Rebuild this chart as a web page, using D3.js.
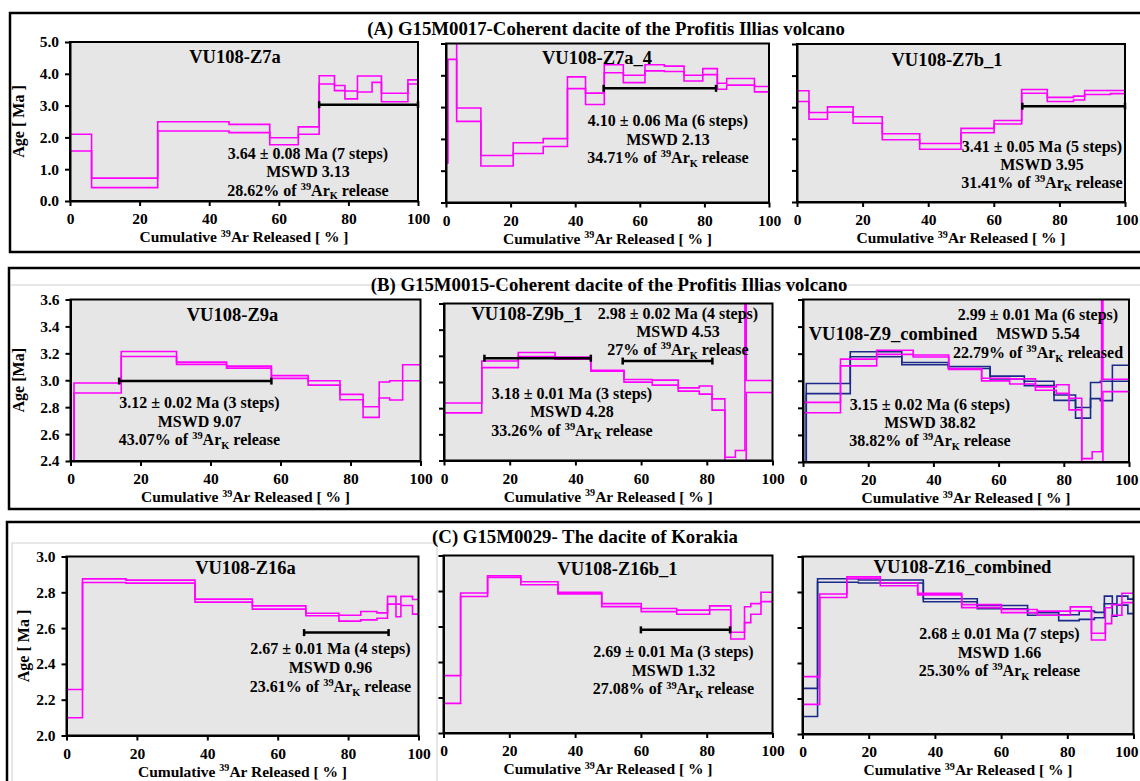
<!DOCTYPE html>
<html>
<head>
<meta charset="utf-8">
<title>Ar-Ar age spectra</title>
<style>
  body { margin: 0; background: #fff; }
  svg { display: block; font-family: "Liberation Serif", "Times New Roman", serif; font-weight: bold; }
  .step { fill: none; stroke-width: 1.6; }
  .plateau { stroke: #000; stroke-width: 2.5; }
  .axis path, .axis line { stroke: #000; stroke-width: 2; }
  .axis text { font-size: 15.5px; font-weight: bold; font-family: "Liberation Serif", "Times New Roman", serif; fill: #000; }
  .frame { fill: none; stroke: #000; stroke-width: 2; }
</style>
</head>
<body>
<svg width="1140" height="781"></svg>
<script src="https://cdn.jsdelivr.net/npm/d3@7"></script>
<script>
// ---- step data: left edge of each step (% 39Ar), upper and lower 2-sigma age (Ma)

// VU108-Z7a
var z7aSteps = [0, 6.2, 25.2, 45.7, 57.4, 65.6, 71.6, 76.0, 79.0, 82.6, 86.8, 89.5, 97.1];
var z7aHigh  = [2.10, 0.72, 2.49, 2.41, 1.99, 2.33, 3.94, 3.63, 3.46, 3.93, 3.93, 3.39, 3.81];
var z7aLow   = [1.57, 0.42, 2.20, 2.15, 1.77, 2.10, 3.68, 3.47, 3.21, 3.43, 3.73, 3.12, 3.68];
var z7aPlateau = [[71.6, 100, 3.03]];
var z7aNote = ["3.64 ± 0.08 Ma (7 steps)", "MSWD 3.13", "28.62% of ^39Ar_K release"];

// VU108-Z7a_4
var z7a4Steps = [0, 0.6, 3.3, 10.8, 20.8, 30.1, 37.6, 43.2, 49.0, 54.9, 61.6, 67.6, 73.7, 79.5, 84.0, 86.9, 95.5];
var z7a4High  = [5.6, 5.6, 2.97, 1.48, 1.88, 2.01, 3.95, 3.44, 4.33, 4.00, 4.33, 4.29, 4.00, 4.21, 3.75, 3.90, 3.65];
var z7a4Low   = [1.24, 4.50, 2.55, 1.15, 1.54, 1.76, 3.58, 3.08, 4.08, 3.77, 4.14, 4.12, 3.82, 4.02, 3.56, 3.69, 3.48];
var z7a4Plateau = [[48.8, 83.6, 3.59]];
var z7a4Note = ["4.10 ± 0.06 Ma (6 steps)", "MSWD 2.13", "34.71% of ^39Ar_K release"];

// VU108-Z7b_1
var z7b1Steps = [0, 3.65, 9.3, 17.1, 26.0, 37.4, 50.0, 60.1, 68.5, 76.3, 84.3, 87.7, 95.6];
var z7b1High  = [3.52, 2.83, 3.01, 2.70, 2.16, 1.85, 2.33, 2.58, 3.56, 3.31, 3.35, 3.53, 3.53];
var z7b1Low   = [3.18, 2.62, 2.84, 2.49, 1.97, 1.67, 2.19, 2.47, 3.44, 3.18, 3.23, 3.40, 3.43];
var z7b1Plateau = [[68.7, 100, 3.03]];
var z7b1Note = ["3.41 ± 0.05 Ma (5 steps)", "MSWD 3.95", "31.41% of ^39Ar_K release"];

// VU108-Z9a
var z9aSteps = [0, 1.0, 14.5, 30.3, 44.6, 57.4, 67.9, 77.0, 83.6, 88.2, 91.2, 94.9];
var z9aHigh  = [2.20, 2.980, 3.214, 3.135, 3.105, 3.034, 2.996, 2.895, 2.803, 2.987, 2.996, 3.115];
var z9aLow   = [2.00, 2.905, 3.177, 3.118, 3.090, 3.014, 2.964, 2.855, 2.724, 2.868, 2.853, 2.996];
var z9aPlateau = [[13.9, 57.4, 2.994]];
var z9aNote = ["3.12 ± 0.02 Ma (3 steps)", "MSWD 9.07", "43.07% of ^39Ar_K release"];

// VU108-Z9b_1
var z9b1Steps = [0, 11.5, 22.6, 33.8, 44.7, 54.8, 63.4, 71.3, 77.7, 81.6, 85.5, 88.7, 91.6, 92.0];
var z9b1High  = [2.840, 3.160, 3.225, 3.190, 3.090, 3.019, 3.014, 2.955, 2.970, 2.871, 2.425, 2.476, 4.0, 3.011];
var z9b1Low   = [2.764, 3.110, 3.195, 3.175, 3.083, 2.999, 2.976, 2.930, 2.907, 2.785, 2.30, 2.30, 2.0, 2.920];
var z9b1Plateau = [[12.3, 44.7, 3.182], [54.4, 81.7, 3.16]];
var z9b1NoteA = ["2.98 ± 0.02 Ma (4 steps)", "MSWD 4.53", "27% of ^39Ar_K release"];
var z9b1NoteB = ["3.18 ± 0.01 Ma (3 steps)", "MSWD 4.28", "33.26% of ^39Ar_K release"];

// VU108-Z9_combined
var z9cNoteA = ["2.99 ± 0.01 Ma (6 steps)", "MSWD 5.54", "22.79% of ^39Ar_K released"];
var z9cNoteB = ["3.15 ± 0.02 Ma (6 steps)", "MSWD 38.82", "38.82% of ^39Ar_K release"];

// VU108-Z16a
var z16aSteps = [0, 4.55, 16.9, 36.5, 52.8, 68.0, 77.4, 83.6, 88.2, 91.2, 93.6, 95.0, 98.3];
var z16aHigh  = [2.257, 2.875, 2.868, 2.762, 2.724, 2.683, 2.672, 2.693, 2.685, 2.777, 2.734, 2.777, 2.760];
var z16aLow   = [2.099, 2.855, 2.851, 2.745, 2.706, 2.669, 2.639, 2.646, 2.655, 2.734, 2.663, 2.726, 2.678];
var z16aPlateau = [[67.5, 91.5, 2.575]];
var z16aNote = ["2.67 ± 0.01 Ma (4 steps)", "MSWD 0.96", "23.61% of ^39Ar_K release"];

// VU108-Z16b_1
var z16b1Steps = [0, 5.2, 13.4, 23.5, 34.8, 48.1, 60.1, 70.9, 80.9, 87.3, 91.5, 93.4, 96.5];
var z16b1High  = [2.323, 2.789, 2.885, 2.852, 2.793, 2.729, 2.701, 2.692, 2.716, 2.568, 2.711, 2.729, 2.793];
var z16b1Low   = [2.167, 2.769, 2.876, 2.835, 2.784, 2.712, 2.684, 2.669, 2.694, 2.530, 2.622, 2.669, 2.740];
var z16b1Plateau = [[60.0, 87.1, 2.581]];
var z16b1Note = ["2.69 ± 0.01 Ma (3 steps)", "MSWD 1.32", "27.08% of ^39Ar_K release"];

// VU108-Z16_combined
var z16cNote = ["2.68 ± 0.01 Ma (7 steps)", "MSWD 1.66", "25.30% of ^39Ar_K release"];

// axis ticks
var xTicks = [0, 20, 40, 60, 80, 100];
var yTicksA = [0, 1, 2, 3, 4, 5];
var yTicksB = [2.4, 2.6, 2.8, 3.0, 3.2, 3.4, 3.6];
var yTicksC = [2.0, 2.2, 2.4, 2.6, 2.8, 3.0];

var rowTitles = ["(A) G15M0017-Coherent dacite of the Profitis Illias volcano",
                 "(B) G15M0015-Coherent dacite of the Profitis Illias volcano",
                 "(C) G15M0029- The dacite of Korakia"];

var MAGENTA = "#ff00ff", NAVY = "#1b2a8a";
var W = 1140;

var svg = d3.select("svg");

// ---- row boxes
svg.append("rect").attr("x", 10).attr("y", 13).attr("width", 1150).attr("height", 239)
    .attr("fill", "none").attr("stroke", "#000").attr("stroke-width", 2.5);
svg.append("rect").attr("x", 9).attr("y", 268).attr("width", 1150).attr("height", 241)
    .attr("fill", "none").attr("stroke", "#000").attr("stroke-width", 2.5);
svg.append("line").attr("x1", 10).attr("x2", W).attr("y1", 285).attr("y2", 285)
    .attr("stroke", "#cfcfcf").attr("stroke-width", 1);
svg.append("rect").attr("x", 7).attr("y", 522).attr("width", 1150).attr("height", 280)
    .attr("fill", "none").attr("stroke", "#000").attr("stroke-width", 2.5);
svg.append("rect").attr("x", 12).attr("y", 543).attr("width", 425).attr("height", 260)
    .attr("fill", "none").attr("stroke", "#cfcfcf").attr("stroke-width", 1);

[[606, 35], [609, 291], [585, 543]].forEach(function(p, i) {
  svg.append("text").attr("x", p[0]).attr("y", p[1]).attr("text-anchor", "middle")
      .attr("font-size", 18.8).text(rowTitles[i]);
});

// text with ^39 superscripts and _K subscripts
function richText(sel, str, size) {
  var parts = str.split(/(\^\d+|_[A-Z])/);
  var shift = 0;
  parts.forEach(function(s) {
    if (!s) return;
    if (s[0] === "^") {
      sel.append("tspan").attr("font-size", size * 0.65).attr("dy", -size * 0.35 - shift).text(s.slice(1));
      shift = -size * 0.35;
    } else if (s[0] === "_") {
      sel.append("tspan").attr("font-size", size * 0.65).attr("dy", size * 0.22 - shift).text(s.slice(1));
      shift = size * 0.22;
    } else {
      sel.append("tspan").attr("dy", -shift).text(s);
      shift = 0;
    }
  });
}

var panels = [
  {x: 70, y: 42, w: 348, h: 159, yDom: [0, 5], yTicks: yTicksA, yTitle: "Age [ Ma ]", yTitleX: 18,
   title: "VU108-Z7a", tPos: [165, 15],
   series: [[z7aSteps, z7aHigh, z7aLow, MAGENTA]], plateaus: z7aPlateau,
   notes: [{lines: z7aNote, cx: 238, cy: 111, dy: 18.5}]},
  {x: 446, y: 43.5, w: 323, h: 159, yDom: [0, 5], yTicks: yTicksA,
   title: "VU108-Z7a_4", tPos: [151, 14],
   series: [[z7a4Steps, z7a4High, z7a4Low, MAGENTA]], plateaus: z7a4Plateau,
   notes: [{lines: z7a4Note, cx: 222, cy: 77, dy: 18.5}]},
  {x: 797, y: 44, w: 328, h: 158, yDom: [0, 5], yTicks: yTicksA,
   title: "VU108-Z7b_1", tPos: [150, 16],
   series: [[z7b1Steps, z7b1High, z7b1Low, MAGENTA]], plateaus: z7b1Plateau,
   notes: [{lines: z7b1Note, cx: 245, cy: 102, dy: 18}]},

  {x: 70.5, y: 299.5, w: 350, h: 161.5, yDom: [2.4, 3.6], yTicks: yTicksB, yTitle: "Age [Ma]", yTitleX: 18,
   title: "VU108-Z9a", tPos: [162, 15],
   series: [[z9aSteps, z9aHigh, z9aLow, MAGENTA]], plateaus: z9aPlateau,
   notes: [{lines: z9aNote, cx: 129, cy: 103, dy: 18.5}]},
  {x: 444, y: 303.5, w: 328.5, h: 157, yDom: [2.4, 3.6], yTicks: yTicksB,
   title: "VU108-Z9b_1", tPos: [83, 10],
   series: [[z9b1Steps, z9b1High, z9b1Low, MAGENTA]], plateaus: z9b1Plateau,
   notes: [{lines: z9b1NoteA, cx: 234, cy: 10, dy: 18}, {lines: z9b1NoteB, cx: 128, cy: 90, dy: 18.3}]},
  {x: 803, y: 299.5, w: 326, h: 162.5, yDom: [2.4, 3.6], yTicks: yTicksB,
   title: "VU108-Z9_combined", tPos: [90, 34],
   series: [[z9aSteps, z9aHigh, z9aLow, NAVY], [z9b1Steps, z9b1High, z9b1Low, MAGENTA]], plateaus: [],
   notes: [{lines: z9cNoteA, cx: 235, cy: 15, dy: 19}, {lines: z9cNoteB, cx: 127, cy: 105, dy: 18}]},

  {x: 66.5, y: 556.5, w: 352, h: 179, yDom: [2, 3], yTicks: yTicksC, yTitle: "Age [ Ma ]", yTitleX: 23,
   title: "VU108-Z16a", tPos: [179, 11],
   series: [[z16aSteps, z16aHigh, z16aLow, MAGENTA]], plateaus: z16aPlateau,
   notes: [{lines: z16aNote, cx: 264, cy: 92, dy: 19}]},
  {x: 443.5, y: 555.5, w: 329, h: 177.5, yDom: [2, 3], yTicks: yTicksC,
   title: "VU108-Z16b_1", tPos: [174, 13],
   series: [[z16b1Steps, z16b1High, z16b1Low, MAGENTA]], plateaus: z16b1Plateau,
   notes: [{lines: z16b1Note, cx: 230, cy: 96, dy: 18.7}]},
  {x: 802.5, y: 556.5, w: 331, h: 177.5, yDom: [2, 3], yTicks: yTicksC,
   title: "VU108-Z16_combined", tPos: [160, 10],
   series: [[z16aSteps, z16aHigh, z16aLow, NAVY], [z16b1Steps, z16b1High, z16b1Low, MAGENTA]], plateaus: [],
   notes: [{lines: z16cNote, cx: 197, cy: 77, dy: 18.5}]}
];

panels.forEach(function(p, k) {
  var g = svg.append("g").attr("transform", "translate(" + p.x + "," + p.y + ")");
  var x = d3.scaleLinear().domain([0, 100]).range([0, p.w]);
  var y = d3.scaleLinear().domain(p.yDom).range([p.h, 0]);

  g.append("rect").attr("width", p.w).attr("height", p.h).attr("fill", "#e6e6e6");
  g.append("clipPath").attr("id", "clip" + k)
    .append("rect").attr("width", p.w).attr("height", p.h);

  var plot = g.append("g").attr("clip-path", "url(#clip" + k + ")");
  var line = d3.line().curve(d3.curveStepAfter)
      .x(function(d) { return x(d[0]); })
      .y(function(d) { return y(d[1]); });

  // upper and lower outline of every step
  p.series.forEach(function(s) {
    [s[1], s[2]].forEach(function(vals) {
      var pts = s[0].map(function(v, i) { return [v, vals[i]]; });
      pts.push([100, vals[vals.length - 1]]);
      plot.append("path").attr("class", "step").attr("stroke", s[3]).attr("d", line(pts));
    });
  });

  // plateau bars
  p.plateaus.forEach(function(pl) {
    g.append("line").attr("class", "plateau")
      .attr("x1", x(pl[0])).attr("x2", x(pl[1])).attr("y1", y(pl[2])).attr("y2", y(pl[2]));
    [pl[0], pl[1]].forEach(function(e) {
      g.append("line").attr("class", "plateau")
        .attr("x1", x(e)).attr("x2", x(e)).attr("y1", y(pl[2]) - 3.5).attr("y2", y(pl[2]) + 3.5);
    });
  });

  g.append("rect").attr("class", "frame").attr("width", p.w).attr("height", p.h);

  var xa = g.append("g").attr("class", "axis")
      .attr("transform", "translate(0," + p.h + ")")
      .call(d3.axisBottom(x).tickValues(xTicks).tickSize(5).tickPadding(7).tickSizeOuter(0));
  // keep the "100" label inside the window
  var room = W - 2 - (p.x + p.w);
  if (room < 14) {
    xa.selectAll(".tick text").filter(function(d) { return d === 100; })
      .attr("text-anchor", "end").attr("x", room);
  }

  g.append("g").attr("class", "axis")
      .call(d3.axisLeft(y).tickValues(p.yTicks).tickSize(5).tickPadding(6).tickSizeOuter(0)
        .tickFormat(p.yTitle ? d3.format(".1f") : ""));

  if (p.yTitle) {
    svg.append("text")
      .attr("transform", "translate(" + p.yTitleX + "," + (p.y + p.h / 2) + ") rotate(-90)")
      .attr("text-anchor", "middle").attr("dy", "0.35em").attr("font-size", 16)
      .text(p.yTitle);
  }

  var xt = g.append("text").attr("x", p.w / 2).attr("y", p.h + 41)
      .attr("text-anchor", "middle").attr("font-size", 15.5);
  richText(xt, "Cumulative ^39Ar Released [ % ]", 15.5);

  g.append("text").attr("x", p.tPos[0]).attr("y", p.tPos[1]).attr("dy", "0.35em")
      .attr("text-anchor", "middle").attr("font-size", 18.5).text(p.title);

  p.notes.forEach(function(n) {
    n.lines.forEach(function(txt, i) {
      var t = g.append("text").attr("x", n.cx).attr("y", n.cy + i * n.dy + 5.5)
          .attr("text-anchor", "middle").attr("font-size", 16);
      richText(t, txt, 16);
    });
  });
});
</script>
</body>
</html>
